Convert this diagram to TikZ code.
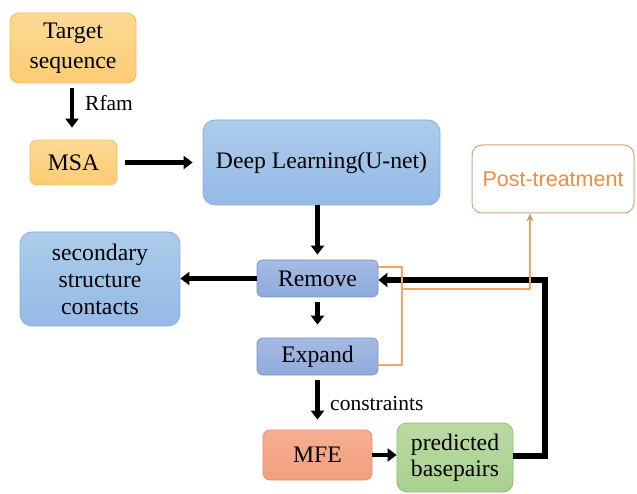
\documentclass[tikz,border=0pt]{standalone}
\usepackage{fontspec}
\setmainfont{Liberation Serif}
\newfontfamily\postfont{Liberation Sans}
\usetikzlibrary{arrows.meta,calc}
\definecolor{ora}{HTML}{FBD07A}
\definecolor{orab}{HTML}{F2BE5C}
\definecolor{blu}{HTML}{9DC3E6}
\definecolor{blub}{HTML}{86AEDC}
\definecolor{dblu}{HTML}{8FAADC}
\definecolor{dblub}{HTML}{7693CF}
\definecolor{sal}{HTML}{F3A07E}
\definecolor{salb}{HTML}{E88C68}
\definecolor{grn}{HTML}{A9D18E}
\definecolor{grnb}{HTML}{8CBF6C}
\definecolor{oline}{HTML}{F7A45E}
\definecolor{otext}{HTML}{F08C40}
\definecolor{obord}{HTML}{D8A474}
\tikzset{
  box/.style={rounded corners=9pt, inner sep=0pt, align=center, font=\fontsize{23.7}{28}\selectfont, line width=0.8pt},
  orbox/.style={box, draw=orab, top color=ora!80!white, bottom color=ora!95!orange},
  bbox/.style={box, draw=blub, top color=blu!85!white, bottom color=blu!95!blue},
  dbox/.style={box, rounded corners=6pt, draw=dblub, top color=dblu!80!white, bottom color=dblu},
  sbox/.style={box, draw=salb, top color=sal!85!white, bottom color=sal},
  gbox/.style={box, draw=grnb, top color=grn!80!white, bottom color=grn},
  arr/.style={line width=4.5pt, -{Triangle[width=13pt,length=9pt]}},
  lbl/.style={font=\fontsize{21.5}{26}\selectfont, anchor=west, inner sep=0pt},
  oln/.style={draw=oline, line width=1.4pt},
}
\begin{document}
\begin{tikzpicture}[x=1pt,y=-1pt]
\useasboundingbox (0,0) rectangle (637,494);
\node[orbox, minimum width=126pt, minimum height=70pt] (tgt) at (73,48) {Target\\[2pt]sequence};
\node[orbox, minimum width=87pt, minimum height=45pt, rounded corners=7pt] (msa) at (73.5,162.5) {MSA};
\node[bbox, minimum width=237pt, minimum height=85pt, rounded corners=12pt] (dl) at (321.5,162.5) {Deep Learning(U-net)};
\node[box, draw=obord, fill=white, line width=1pt, minimum width=162pt, minimum height=68pt, rounded corners=10pt, text=otext, font=\postfont\fontsize{21.5}{26}\selectfont] (post) at (553,179) {Post-treatment};
\node[bbox, minimum width=160pt, minimum height=94pt, rounded corners=12pt] (sec) at (100,279) {secondary\\[-1pt]structure\\[-1pt]contacts};
\node[dbox, minimum width=121pt, minimum height=37pt] (rem) at (317.5,278.5) {Remove};
\node[dbox, minimum width=121pt, minimum height=37pt] (exp) at (317.5,356.5) {Expand};
\node[sbox, minimum width=109pt, minimum height=50pt, rounded corners=7pt] (mfe) at (317.5,455) {MFE};
\node[gbox, minimum width=116pt, minimum height=69pt, rounded corners=10pt] (pred) at (455,457.5) {predicted\\[-2pt]basepairs};

% black arrows
\draw[arr, shorten <=5pt, shorten >=12pt] (tgt.south -| 72,0) -- (msa.north -| 72,0);
\node[lbl] (rfam) at (85,103) {Rfam};
\draw[arr, shorten <=8pt, shorten >=10pt] (msa.east) -- (dl.west |- msa.east);
\draw[arr, shorten >=5pt] (dl.south -| rem.north) -- (rem.north);
\draw[arr, shorten <=5pt, shorten >=13pt] (rem.south) -- (exp.north);
\draw[arr, shorten <=5pt, shorten >=10pt] (exp.south) -- (mfe.north);
\node[lbl] (cons) at (330,403) {constraints};
\draw[arr] (mfe.east) -- (pred.west |- mfe.east);
\draw[arr] (rem.west) -- (sec.east |- rem.west);
\coordinate (r1) at (545,456);
\coordinate (r2) at (545,280);
\draw[line width=6pt, -{Triangle[width=14pt,length=9pt]}] (pred.east |- r1) -- (r1) -- (r2) -- (rem.east |- r2);

% orange connectors
\coordinate (o1) at (402,267);
\coordinate (o2) at (402,365);
\coordinate (o3) at (402,289);
\coordinate (o4) at (530,289);
\draw[oln] (rem.east |- o1) -- (o1) -- (o2) -- (exp.east |- o2);
\draw[oln, -{Stealth[length=8pt,width=7pt,color=obord!80!gray]}] (o3) -- (o4) -- (o4 |- post.south);
\end{tikzpicture}
\end{document}
